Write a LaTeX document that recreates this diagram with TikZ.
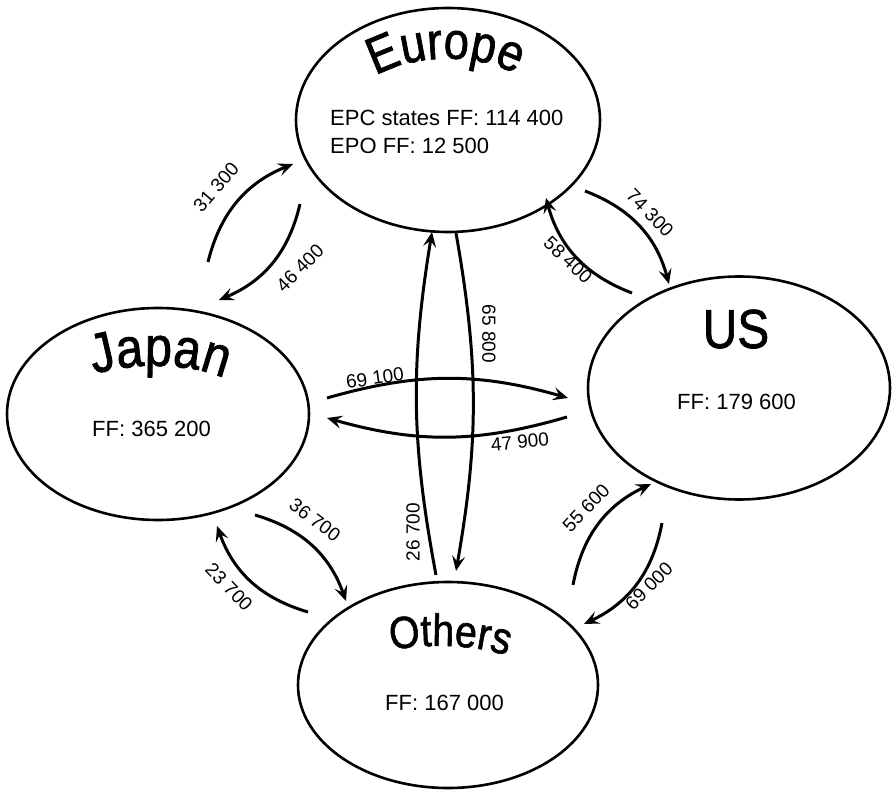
\documentclass[tikz,border=0pt]{standalone}
\usepackage{fontspec}
\setmainfont{Liberation Sans}
\newfontfamily\ttlfam{Liberation Sans}[FakeBold=1.3, FakeStretch=0.87]
\usetikzlibrary{shapes.geometric,arrows.meta,decorations.text}
\newcommand\ttlfont[1]{\ttlfam\fontsize{#1}{#1}\selectfont}
\begin{document}
\begin{tikzpicture}[x=1pt,y=-1pt,
  region/.style={draw, ellipse, line width=2.6pt, inner sep=0pt},
  flow/.style={line width=3pt, -{Stealth[length=15pt,width=13pt,inset=6pt]}, bend left=#1},
  flow/.default=27,
  qty/.style={font=\fontsize{19}{19}\selectfont, inner sep=0pt},
  ff/.style={font=\fontsize{22}{26}\selectfont, inner sep=0pt, anchor=base west},
  title/.style={decorate, decoration={text along path, text align=center, text={#1}}}
]
\useasboundingbox (0,0) rectangle (892,791);

% regions
\node[region, minimum width=304pt, minimum height=224pt] (eu) at (448,120) {};
\node[region, minimum width=302pt, minimum height=212pt] (jp) at (158,414) {};
\node[region, minimum width=302pt, minimum height=223pt] (us) at (739,388) {};
\node[region, minimum width=300pt, minimum height=206pt] (ot) at (448,685) {};

% titles
\path[title={|\ttlfont{52}|Europe}] (370,80) .. controls (405,54) and (480,50) .. (522,78);
\path[title={|\ttlfont{56}|Japan}] (84,378) .. controls (120,363) and (190,359) .. (234,383);
\node[font=\ttlfont{55}, inner sep=0pt, anchor=base] (ustitle) at (736,348) {US};
\path[title={|\ttlfont{45}|Others}] (382,652) .. controls (420,643) and (478,643) .. (516,659);

% figures
\node[ff] (eutxt1) at (330,126) {EPC states FF: 114 400};
\node[ff] (eutxt2) at (330,154) {EPO FF: 12 500};
\node[ff] (jptxt) at (92,437) {FF: 365 200};
\node[ff] (ustxt) at (677,410) {FF: 179 600};
\node[ff] (ottxt) at (385,710) {FF: 167 000};

% arrow end points
\coordinate (a1s) at (208,262);  \coordinate (a1e) at (293,164);
\coordinate (a2s) at (300,204);  \coordinate (a2e) at (219,300);
\coordinate (a3s) at (585,191);  \coordinate (a3e) at (669,284);
\coordinate (a4s) at (632,293);  \coordinate (a4e) at (546,198);
\coordinate (a5s) at (327,398);  \coordinate (a5e) at (568,398);
\coordinate (a6s) at (567,417);  \coordinate (a6e) at (327,418);
\coordinate (a7s) at (436,575);  \coordinate (a7e) at (432,232);
\coordinate (a8s) at (456,233);  \coordinate (a8e) at (456,571);
\coordinate (a9s) at (255,515);  \coordinate (a9e) at (346,601);
\coordinate (a10s) at (308,612); \coordinate (a10e) at (217,526);
\coordinate (a11s) at (573,585); \coordinate (a11e) at (651,484);
\coordinate (a12s) at (662,523); \coordinate (a12e) at (584,624);

\draw[flow] (a1s) to (a1e);
\draw[flow] (a2s) to (a2e);
\draw[flow] (a3s) to (a3e);
\draw[flow] (a4s) to (a4e);
\draw[flow=16] (a5s) to (a5e);
\draw[flow=16] (a6s) to (a6e);
\draw[flow=10] (a7s) to (a7e);
\draw[flow=10] (a8s) to (a8e);
\draw[flow] (a9s) to (a9e);
\draw[flow] (a10s) to (a10e);
\draw[flow] (a11s) to (a11e);
\draw[flow] (a12s) to (a12e);

% labels
\node[qty, rotate=49] (l1) at (216,187) {31 300};
\node[qty, rotate=45] (l2) at (300,268) {46 400};
\node[qty, rotate=-46] (l3) at (650,213) {74 300};
\node[qty, rotate=-43] (l4) at (568,260) {58 400};
\node[qty, rotate=8] (l5) at (375,378) {69 100};
\node[qty, rotate=5] (l6) at (520,442) {47 900};
\node[qty, rotate=90] (l7) at (413,532) {26 700};
\node[qty, rotate=-90] (l8) at (489,334) {65 800};
\node[qty, rotate=-37] (l9) at (315,520) {36 700};
\node[qty, rotate=-46] (l10) at (229,587) {23 700};
\node[qty, rotate=46] (l11) at (586,508) {55 600};
\node[qty, rotate=45] (l12) at (649,586) {69 000};
\end{tikzpicture}
\end{document}
